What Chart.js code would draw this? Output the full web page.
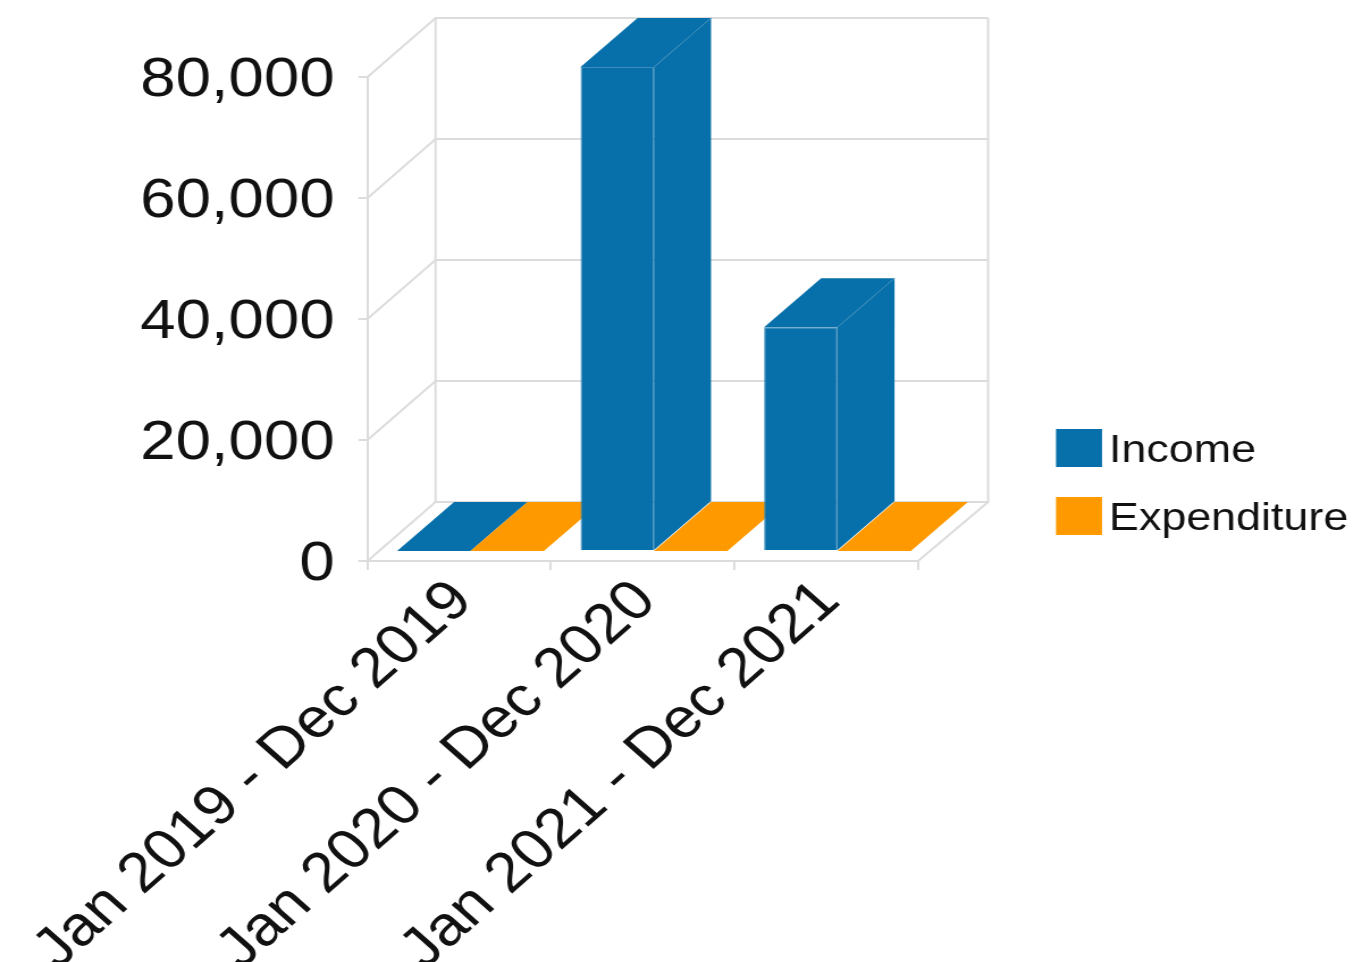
<!DOCTYPE html>
<html>
<head>
<meta charset="utf-8">
<title>Income and Expenditure</title>
<script src="https://cdn.jsdelivr.net/npm/chart.js@4"></script>
<style>
    html, body { margin: 0; padding: 0; background: #fff; overflow: hidden; }
    /* the reference is a picture stretched sideways, text included */
    canvas { display: block; transform: scaleX(1.135); transform-origin: 0 0; }
</style>
</head>
<body>
<canvas id="chart" width="1193" height="962"></canvas>
<script>
const categories = ["Jan 2019 - Dec 2019", "Jan 2020 - Dec 2020", "Jan 2021 - Dec 2021"];
const income = [0, 80000, 37000];
const expenditure = [0, 0, 0];

const SX = 1.135;
const BLUE = "#0770aa";
const ORANGE = "#ff9900";
const EDGE = "#3d8cba";
const GRID = "#dcdcdc";
const TEXT = "#111111";
const FONT = "Liberation Sans";

// wall depth, bar depth and how far the bars sit in from the front of the floor
const WALL = { dx: 68 / SX, dy: 59 };
const BAR = { dx: 57 / SX, dy: 49 };
const INSET = { dx: 11.2 / SX, dy: 10 };

function poly(ctx, points, fill) {
    ctx.beginPath();
    points.forEach(([x, y], i) => (i ? ctx.lineTo(x, y) : ctx.moveTo(x, y)));
    ctx.closePath();
    ctx.fillStyle = fill;
    ctx.fill();
}

function line(ctx, points, color, width) {
    ctx.beginPath();
    points.forEach(([x, y], i) => (i ? ctx.lineTo(x, y) : ctx.moveTo(x, y)));
    ctx.strokeStyle = color;
    ctx.lineWidth = width;
    ctx.stroke();
}

const box3d = {
    id: "box3d",
    beforeDatasetsDraw(chart) {
        const { ctx, chartArea: { left, right }, scales: { y } } = chart;
        const base = y.getPixelForValue(0);
        const backRight = right + WALL.dx + 2 / SX;
        ctx.save();
        // walls and floor
        y.ticks.forEach(t => {
            const py = y.getPixelForValue(t.value);
            line(ctx, [[left, py], [left + WALL.dx, py - WALL.dy], [backRight, py - WALL.dy]], GRID, 2);
        });
        const top = y.getPixelForValue(y.max);
        line(ctx, [[left + WALL.dx, top - WALL.dy], [left + WALL.dx, base - WALL.dy]], GRID, 2);
        line(ctx, [[backRight, top - WALL.dy], [backRight, base - WALL.dy], [right, base]], GRID, 2);

        // top and side faces, left to right so the fronts cover what is behind
        categories.forEach((_, i) => {
            chart.data.datasets.forEach((ds, d) => {
                const bar = chart.getDatasetMeta(d).data[i];
                const x0 = bar.x - bar.width / 2 + INSET.dx;
                const x1 = bar.x + bar.width / 2 + INSET.dx;
                const yt = bar.y - INSET.dy;
                const yb = bar.base - INSET.dy;
                poly(ctx, [[x1, yt], [x1 + BAR.dx, yt - BAR.dy], [x1 + BAR.dx, yb - BAR.dy], [x1, yb]], ds.backgroundColor);
                poly(ctx, [[x0, yt], [x0 + BAR.dx, yt - BAR.dy], [x1 + BAR.dx, yt - BAR.dy], [x1, yt]], ds.backgroundColor);
                if (yb - yt > 1) line(ctx, [[x1, yt], [x1 + BAR.dx, yt - BAR.dy]], EDGE, 1);
            });
        });
        ctx.restore();
    },
    beforeDatasetDraw(chart) {
        chart.ctx.save();
        chart.ctx.translate(INSET.dx, -INSET.dy);
    },
    afterDatasetDraw(chart) {
        chart.ctx.restore();
    },
    afterDraw(chart) {
        const { ctx } = chart;
        ctx.save();
        ctx.font = `39.5px "${FONT}"`;
        ctx.textBaseline = "middle";
        chart.data.datasets.forEach((ds, i) => {
            const y = 429 + i * 68;
            ctx.fillStyle = ds.backgroundColor;
            ctx.fillRect(1056 / SX, y, 46 / SX, 38);
            ctx.fillStyle = TEXT;
            ctx.fillText(ds.label, 1109 / SX, y + 22);
        });
        ctx.restore();
    },
};

new Chart(document.getElementById("chart"), {
    type: "bar",
    data: {
        labels: categories,
        datasets: [
            { label: "Income", data: income, backgroundColor: BLUE, borderColor: EDGE, borderWidth: 1, clip: false },
            { label: "Expenditure", data: expenditure, backgroundColor: ORANGE, borderColor: EDGE, borderWidth: 0, clip: false },
        ],
    },
    options: {
        responsive: false,
        animation: false,
        categoryPercentage: 0.8,
        barPercentage: 1,
        layout: { padding: { top: 77, right: (1354 - 918) / SX, left: 0, bottom: 0 } },
        plugins: { legend: { display: false }, tooltip: { enabled: false } },
        scales: {
            x: {
                afterFit: s => { s.height = 401; s.paddingLeft = 0; s.paddingRight = 0; },
                grid: { drawOnChartArea: false, color: GRID, lineWidth: 2, tickLength: 9 },
                border: { color: GRID, width: 2 },
                ticks: {
                    autoSkip: false,
                    minRotation: 45,
                    maxRotation: 45,
                    labelOffset: 3,
                    padding: -2,
                    color: TEXT,
                    font: { family: FONT, size: 56 },
                },
            },
            y: {
                min: 0,
                max: 80000,
                afterFit: s => { s.width = 367.5 / SX; },
                grid: { drawOnChartArea: false, color: GRID, lineWidth: 2, tickLength: 8 },
                border: { color: GRID, width: 2 },
                ticks: {
                    stepSize: 20000,
                    padding: 21,
                    labelOffset: 4,
                    color: TEXT,
                    font: { family: FONT, size: 56 },
                    callback: v => v.toLocaleString("en-US"),
                },
            },
        },
    },
    plugins: [box3d],
});
</script>
</body>
</html>
